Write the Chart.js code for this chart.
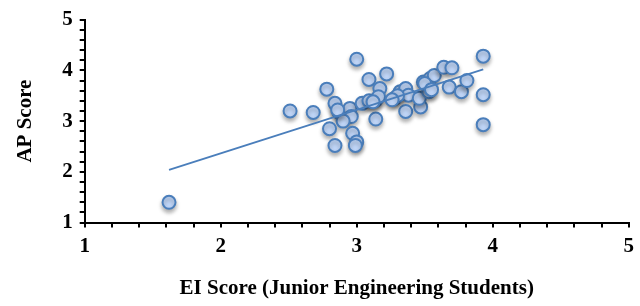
<!DOCTYPE html>
<html>
<head>
<meta charset="utf-8">
<script src="https://cdn.jsdelivr.net/npm/chart.js@4"></script>
<style>
  html, body { margin: 0; padding: 0; background: #fff; }
  #wrap { width: 640px; height: 306px; }
</style>
</head>
<body>
<div id="wrap"><canvas id="canvas" width="640" height="306"></canvas></div>
<script>
// EI score (x) and AP score (y)
const eiScores = [1.62, 2.51, 2.68, 2.78, 3.00, 3.09, 3.22, 3.17, 2.84, 2.87,
  2.95, 2.96, 2.90, 2.80, 2.97, 3.00, 2.99, 2.84, 3.04, 3.09,
  3.14, 3.14, 3.16, 3.28, 3.32, 3.36, 3.38, 3.36, 3.47, 3.46,
  3.49, 3.53, 3.54, 3.57, 3.64, 3.70, 3.68, 3.77, 3.81, 3.93,
  3.93, 3.93, 3.30, 3.50, 3.26, 3.12, 2.86, 3.55];
const apScores = [1.40, 3.20, 3.17, 3.63, 4.22, 3.82, 3.93, 3.64, 3.35, 3.17,
  3.25, 3.09, 3.00, 2.85, 2.76, 2.59, 2.52, 2.52, 3.35, 3.40,
  3.41, 3.04, 3.48, 3.45, 3.58, 3.64, 3.51, 3.19, 3.28, 3.45,
  3.77, 3.58, 3.84, 3.90, 4.06, 4.05, 3.67, 3.58, 3.80, 4.28,
  3.52, 2.93, 3.50, 3.74, 3.42, 3.38, 3.22, 3.62];

// linear trendline end points
const trendX = [1.62, 3.93];
const trendY = [2.04, 4.02];

const axisMin = 1, axisMax = 5, axisStep = 0.2;

const points = eiScores.map((x, i) => ({ x: x, y: apScores[i] }));
const trend = trendX.map((x, i) => ({ x: x, y: trendY[i] }));

const serif = "'Liberation Serif', 'Times New Roman', serif";
const tickFont = { family: serif, size: 21, weight: 'bold' };
const titleFont = { family: serif, size: 21, weight: 'bold' };

const onlyInts = function(v) {
  return Math.abs(v - Math.round(v)) < 1e-6 ? Math.round(v) : '';
};

// soft drop shadow under the markers
const shadowPlugin = {
  id: 'shadow',
  beforeDatasetDraw(chart, args) {
    if (args.index !== 1) return;
    const ctx = chart.ctx;
    ctx.save();
    ctx.shadowColor = 'rgba(0,0,0,0.3)';
    ctx.shadowBlur = 4;
    ctx.shadowOffsetY = 3;
  },
  afterDatasetDraw(chart, args) {
    if (args.index !== 1) return;
    chart.ctx.restore();
  }
};

const ctx = document.getElementById('canvas').getContext('2d');
const chart = new Chart(ctx, {
  type: 'scatter',
  data: {
    datasets: [
      {
        type: 'line',
        label: 'Linear',
        data: trend,
        borderColor: '#4a7ebb',
        borderWidth: 1.8,
        pointRadius: 0,
        fill: false,
        order: 0
      },
      {
        label: 'Students',
        data: points,
        backgroundColor: '#c0d6f8',
        borderColor: '#4a7ebb',
        borderWidth: 2,
        pointRadius: 6.5,
        order: 1
      }
    ]
  },
  options: {
    responsive: false,
    animation: false,
    layout: { padding: { left: 13, right: 6, top: 5, bottom: 5 } },
    plugins: {
      legend: { display: false },
      tooltip: { enabled: false }
    },
    scales: {
      x: {
        type: 'linear',
        min: axisMin,
        max: axisMax,
        border: { color: '#000', width: 2 },
        grid: { drawOnChartArea: false, color: '#000', tickLength: 5, lineWidth: 2 },
        ticks: {
          stepSize: axisStep,
          autoSkip: false,
          maxRotation: 0,
          color: '#000',
          font: tickFont,
          padding: 6,
          callback: onlyInts
        },
        title: {
          display: true,
          text: 'EI Score (Junior Engineering Students)',
          color: '#000',
          font: titleFont,
          padding: { top: 11, bottom: 0 }
        }
      },
      y: {
        type: 'linear',
        min: axisMin,
        max: axisMax,
        border: { color: '#000', width: 2 },
        grid: { drawOnChartArea: false, color: '#000', tickLength: 5, lineWidth: 2 },
        ticks: {
          stepSize: axisStep,
          autoSkip: false,
          color: '#000',
          font: tickFont,
          padding: 7,
          callback: onlyInts
        },
        title: {
          display: true,
          text: 'AP Score',
          color: '#000',
          font: titleFont,
          padding: { top: 0, bottom: 17 }
        }
      }
    }
  },
  plugins: [shadowPlugin]
});
</script>
</body>
</html>
